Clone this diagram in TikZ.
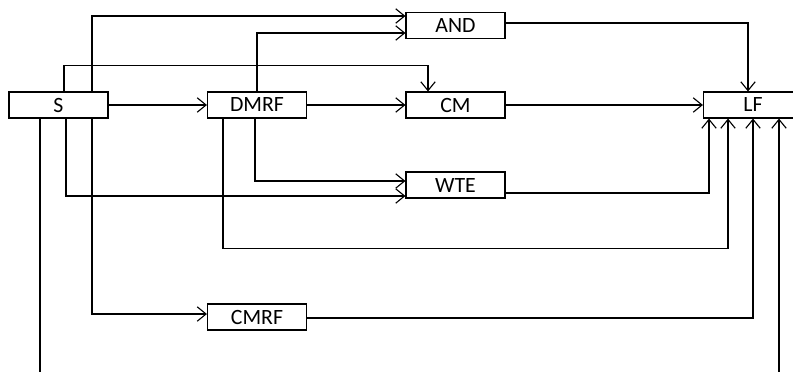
\documentclass[tikz,border=0pt]{standalone}
\usepackage{fontspec}
\setmainfont{Carlito}
\usepackage{tikz}
\usetikzlibrary{positioning,arrows.meta,calc}
\tikzset{
  flowarrow/.style={-{Straight Barb[length=2.2mm, width=3.6mm, line width=0.8pt]}, line width=0.8pt},
  blockbox/.style={draw, line width=0.8pt, fill=white, minimum width=2.475cm, minimum height=0.65cm, inner sep=0pt, align=center, font=\fontsize{15.5}{17}\selectfont}
}

\begin{document}
\begin{tikzpicture}[x=0.025cm, y=-0.025cm]
  \useasboundingbox (0,0) rectangle (793,371);
  \node[blockbox] (S) at (58.5,105) {S};
  \node[blockbox] (DMRF) at (257,105) {DMRF};
  \node[blockbox] (AND) at (455.5,25.5) {AND};
  \node[blockbox] (CM) at (455.5,105) {CM};
  \node[blockbox] (WTE) at (455.5,185) {WTE};
  \node[blockbox] (CMRF) at (257,317) {CMRF};
  \node[blockbox] (LF) at (753,105) {LF};
  \draw[flowarrow] ($(S.north)+(33.5,0)$) |- ($(AND.west)+(0,-9.5)$);
  \draw[flowarrow] (DMRF.north) |- ($(AND.west)+(0,7.5)$);
  \draw[flowarrow] ($(S.north)+(5.5,0)$) -- ++(0,-26) -| ($(CM.north)+(-27.5,0)$);
  \draw[flowarrow] (S) -- (DMRF);
  \draw[flowarrow] (DMRF) -- (CM);
  \draw[flowarrow] (CM) -- (LF);
  \draw[flowarrow] ($(AND.east)+(0,-2.5)$) -| ($(LF.north)+(-5,0)$);
  \draw[flowarrow] ($(DMRF.south)+(-2,0)$) |- ($(WTE.west)+(0,-4)$);
  \draw[flowarrow] ($(S.south)+(7.5,0)$) |- ($(WTE.west)+(0,11)$);
  \draw[flowarrow] ($(WTE.east)+(0,8)$) -| ($(LF.south)+(-44,0)$);
  \draw[flowarrow] ($(DMRF.south)+(-34,0)$) -- ++(0,130) -| ($(LF.south)+(-25,0)$);
  \draw[flowarrow] ($(S.south)+(33.5,0)$) |- ($(CMRF.west)+(0,-3)$);
  \draw[flowarrow] ($(CMRF.east)+(0,1)$) -| (LF.south);
  \draw[flowarrow] ($(S.south)+(-18.5,0)$) -- ++(0,254) -| ($(LF.south)+(26,0)$);
\end{tikzpicture}
\end{document}
